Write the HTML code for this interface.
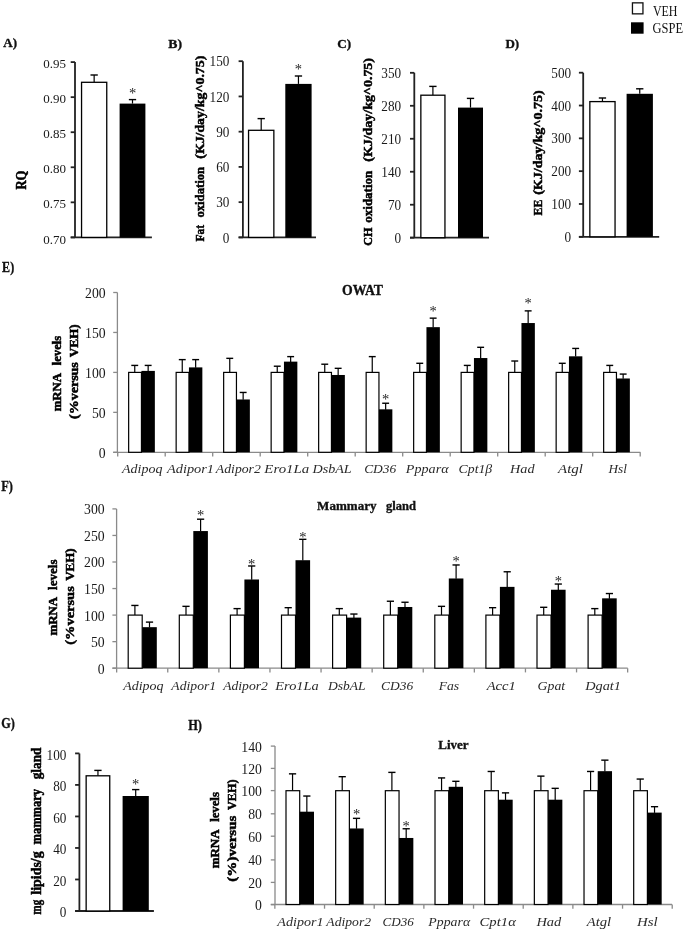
<!DOCTYPE html>
<html><head><meta charset="utf-8"><title>figure</title><style>html,body{margin:0;padding:0;background:#fff;}svg{display:block;filter:blur(0.4px);}</style></head><body>
<svg width="685" height="936" viewBox="0 0 685 936" font-family='"Liberation Serif", serif'>
<rect x="0" y="0" width="685" height="936" fill="#fff"/>
<rect x="632.45" y="2.85" width="10.50" height="11.00" fill="#fff" stroke="#111" stroke-width="1.3"/>
<rect x="631.00" y="22.30" width="12.60" height="11.40" fill="#000" stroke="none" stroke-width="0"/>
<text x="652.88" y="15.50" font-size="14.3" fill="#111" textLength="24.62" lengthAdjust="spacingAndGlyphs">VEH</text>
<text x="652.50" y="33.40" font-size="14.0" fill="#111" textLength="30.53" lengthAdjust="spacingAndGlyphs">GSPE</text>
<text x="3.37" y="47.40" font-size="13.5" font-weight="bold" stroke="#111" stroke-width="0.35" fill="#111" textLength="13.72" lengthAdjust="spacingAndGlyphs">A)</text>
<text x="168.39" y="48.30" font-size="13.5" font-weight="bold" stroke="#111" stroke-width="0.35" fill="#111" textLength="13.72" lengthAdjust="spacingAndGlyphs">B)</text>
<text x="337.34" y="48.40" font-size="13.5" font-weight="bold" stroke="#111" stroke-width="0.35" fill="#111" textLength="13.85" lengthAdjust="spacingAndGlyphs">C)</text>
<text x="505.44" y="48.30" font-size="13.5" font-weight="bold" stroke="#111" stroke-width="0.35" fill="#111" textLength="13.75" lengthAdjust="spacingAndGlyphs">D)</text>
<text x="2.12" y="271.90" font-size="14.3" font-weight="bold" stroke="#111" stroke-width="0.35" fill="#111" textLength="12.02" lengthAdjust="spacingAndGlyphs">E)</text>
<text x="1.26" y="491.20" font-size="14.3" font-weight="bold" stroke="#111" stroke-width="0.35" fill="#111" textLength="11.68" lengthAdjust="spacingAndGlyphs">F)</text>
<text x="1.19" y="728.40" font-size="14.3" font-weight="bold" stroke="#111" stroke-width="0.35" fill="#111" textLength="13.61" lengthAdjust="spacingAndGlyphs">G)</text>
<text x="188.21" y="730.40" font-size="14.3" font-weight="bold" stroke="#111" stroke-width="0.35" fill="#111" textLength="13.79" lengthAdjust="spacingAndGlyphs">H)</text>
<path d="M70.70 237.40H151.90M75.00 237.40V62.10" stroke="#222" stroke-width="1.8" fill="none"/>
<line x1="70.70" y1="237.40" x2="75.00" y2="237.40" stroke="#222" stroke-width="1.8"/>
<text x="43.17" y="243.56" font-size="13.4" fill="#1a1a1a" textLength="22.75" lengthAdjust="spacingAndGlyphs">0.70</text>
<line x1="70.70" y1="202.34" x2="75.00" y2="202.34" stroke="#222" stroke-width="1.8"/>
<text x="43.17" y="208.49" font-size="13.4" fill="#1a1a1a" textLength="22.75" lengthAdjust="spacingAndGlyphs">0.75</text>
<line x1="70.70" y1="167.28" x2="75.00" y2="167.28" stroke="#222" stroke-width="1.8"/>
<text x="43.17" y="173.44" font-size="13.4" fill="#1a1a1a" textLength="22.75" lengthAdjust="spacingAndGlyphs">0.80</text>
<line x1="70.70" y1="132.22" x2="75.00" y2="132.22" stroke="#222" stroke-width="1.8"/>
<text x="43.17" y="138.37" font-size="13.4" fill="#1a1a1a" textLength="22.75" lengthAdjust="spacingAndGlyphs">0.85</text>
<line x1="70.70" y1="97.16" x2="75.00" y2="97.16" stroke="#222" stroke-width="1.8"/>
<text x="43.17" y="103.32" font-size="13.4" fill="#1a1a1a" textLength="22.75" lengthAdjust="spacingAndGlyphs">0.90</text>
<line x1="70.70" y1="62.10" x2="75.00" y2="62.10" stroke="#222" stroke-width="1.8"/>
<text x="43.17" y="68.25" font-size="13.4" fill="#1a1a1a" textLength="22.75" lengthAdjust="spacingAndGlyphs">0.95</text>
<line x1="94.15" y1="75.00" x2="94.15" y2="82.30" stroke="#000" stroke-width="1.2"/>
<line x1="90.50" y1="75.00" x2="97.80" y2="75.00" stroke="#000" stroke-width="1.4"/>
<rect x="81.55" y="82.30" width="25.20" height="155.10" fill="#fff" stroke="#000" stroke-width="1.3"/>
<line x1="132.50" y1="99.60" x2="132.50" y2="103.60" stroke="#000" stroke-width="1.2"/>
<line x1="128.85" y1="99.60" x2="136.15" y2="99.60" stroke="#000" stroke-width="1.4"/>
<rect x="119.60" y="103.60" width="25.80" height="133.80" fill="#000" stroke="none" stroke-width="0"/>
<text x="132.50" y="97.64" font-size="14.5" text-anchor="middle" fill="#222">*</text>
<text x="26.40" y="189.59" font-size="13.6" font-weight="bold" stroke="#000" stroke-width="0.5" textLength="19.06" lengthAdjust="spacingAndGlyphs" transform="rotate(-90 26.40 189.59)">RQ</text>
<path d="M238.60 237.40H316.00M242.90 237.40V61.20" stroke="#222" stroke-width="1.8" fill="none"/>
<line x1="238.60" y1="237.40" x2="242.90" y2="237.40" stroke="#222" stroke-width="1.8"/>
<text x="222.73" y="242.55" font-size="13.6" fill="#1a1a1a" textLength="6.60" lengthAdjust="spacingAndGlyphs">0</text>
<line x1="238.60" y1="202.16" x2="242.90" y2="202.16" stroke="#222" stroke-width="1.8"/>
<text x="216.14" y="207.31" font-size="13.6" fill="#1a1a1a" textLength="13.19" lengthAdjust="spacingAndGlyphs">30</text>
<line x1="238.60" y1="166.92" x2="242.90" y2="166.92" stroke="#222" stroke-width="1.8"/>
<text x="216.14" y="172.07" font-size="13.6" fill="#1a1a1a" textLength="13.19" lengthAdjust="spacingAndGlyphs">60</text>
<line x1="238.60" y1="131.68" x2="242.90" y2="131.68" stroke="#222" stroke-width="1.8"/>
<text x="216.14" y="136.83" font-size="13.6" fill="#1a1a1a" textLength="13.19" lengthAdjust="spacingAndGlyphs">90</text>
<line x1="238.60" y1="96.44" x2="242.90" y2="96.44" stroke="#222" stroke-width="1.8"/>
<text x="209.54" y="101.59" font-size="13.6" fill="#1a1a1a" textLength="19.79" lengthAdjust="spacingAndGlyphs">120</text>
<line x1="238.60" y1="61.20" x2="242.90" y2="61.20" stroke="#222" stroke-width="1.8"/>
<text x="209.54" y="66.35" font-size="13.6" fill="#1a1a1a" textLength="19.79" lengthAdjust="spacingAndGlyphs">150</text>
<line x1="261.20" y1="118.60" x2="261.20" y2="130.30" stroke="#000" stroke-width="1.2"/>
<line x1="257.55" y1="118.60" x2="264.85" y2="118.60" stroke="#000" stroke-width="1.4"/>
<rect x="248.55" y="130.30" width="25.30" height="107.10" fill="#fff" stroke="#000" stroke-width="1.3"/>
<line x1="298.45" y1="76.00" x2="298.45" y2="83.90" stroke="#000" stroke-width="1.2"/>
<line x1="294.80" y1="76.00" x2="302.10" y2="76.00" stroke="#000" stroke-width="1.4"/>
<rect x="285.30" y="83.90" width="26.30" height="153.50" fill="#000" stroke="none" stroke-width="0"/>
<text x="298.45" y="73.94" font-size="14.5" text-anchor="middle" fill="#222">*</text>
<text x="204.10" y="241.57" font-size="13.4" font-weight="bold" stroke="#000" stroke-width="0.5" textLength="16.82" lengthAdjust="spacingAndGlyphs" transform="rotate(-90 204.10 241.57)">Fat</text>
<text x="204.10" y="217.61" font-size="13.4" font-weight="bold" stroke="#000" stroke-width="0.5" textLength="50.71" lengthAdjust="spacingAndGlyphs" transform="rotate(-90 204.10 217.61)">oxidation</text>
<text x="204.10" y="158.72" font-size="13.4" font-weight="bold" stroke="#000" stroke-width="0.5" textLength="103.02" lengthAdjust="spacingAndGlyphs" transform="rotate(-90 204.10 158.72)">(KJ/day/kg^0.75)</text>
<path d="M410.00 237.70H489.00M414.30 237.70V72.80" stroke="#222" stroke-width="1.8" fill="none"/>
<line x1="410.00" y1="237.70" x2="414.30" y2="237.70" stroke="#222" stroke-width="1.8"/>
<text x="394.53" y="242.65" font-size="13.6" fill="#1a1a1a" textLength="6.60" lengthAdjust="spacingAndGlyphs">0</text>
<line x1="410.00" y1="204.72" x2="414.30" y2="204.72" stroke="#222" stroke-width="1.8"/>
<text x="387.94" y="209.67" font-size="13.6" fill="#1a1a1a" textLength="13.19" lengthAdjust="spacingAndGlyphs">70</text>
<line x1="410.00" y1="171.74" x2="414.30" y2="171.74" stroke="#222" stroke-width="1.8"/>
<text x="381.34" y="176.69" font-size="13.6" fill="#1a1a1a" textLength="19.79" lengthAdjust="spacingAndGlyphs">140</text>
<line x1="410.00" y1="138.76" x2="414.30" y2="138.76" stroke="#222" stroke-width="1.8"/>
<text x="381.34" y="143.71" font-size="13.6" fill="#1a1a1a" textLength="19.79" lengthAdjust="spacingAndGlyphs">210</text>
<line x1="410.00" y1="105.78" x2="414.30" y2="105.78" stroke="#222" stroke-width="1.8"/>
<text x="381.34" y="110.73" font-size="13.6" fill="#1a1a1a" textLength="19.79" lengthAdjust="spacingAndGlyphs">280</text>
<line x1="410.00" y1="72.80" x2="414.30" y2="72.80" stroke="#222" stroke-width="1.8"/>
<text x="381.34" y="77.75" font-size="13.6" fill="#1a1a1a" textLength="19.79" lengthAdjust="spacingAndGlyphs">350</text>
<line x1="432.90" y1="86.40" x2="432.90" y2="95.20" stroke="#000" stroke-width="1.2"/>
<line x1="429.25" y1="86.40" x2="436.55" y2="86.40" stroke="#000" stroke-width="1.4"/>
<rect x="420.85" y="95.20" width="24.10" height="142.50" fill="#fff" stroke="#000" stroke-width="1.3"/>
<line x1="470.50" y1="98.40" x2="470.50" y2="107.60" stroke="#000" stroke-width="1.2"/>
<line x1="466.85" y1="98.40" x2="474.15" y2="98.40" stroke="#000" stroke-width="1.4"/>
<rect x="458.00" y="107.60" width="25.00" height="130.10" fill="#000" stroke="none" stroke-width="0"/>
<text x="372.20" y="245.70" font-size="13.4" font-weight="bold" stroke="#000" stroke-width="0.5" textLength="18.15" lengthAdjust="spacingAndGlyphs" transform="rotate(-90 372.20 245.70)">CH</text>
<text x="372.20" y="222.72" font-size="13.4" font-weight="bold" stroke="#000" stroke-width="0.5" textLength="52.03" lengthAdjust="spacingAndGlyphs" transform="rotate(-90 372.20 222.72)">oxidation</text>
<text x="372.20" y="161.73" font-size="13.4" font-weight="bold" stroke="#000" stroke-width="0.5" textLength="103.73" lengthAdjust="spacingAndGlyphs" transform="rotate(-90 372.20 161.73)">(KJ/day/kg^0.75)</text>
<path d="M578.90 236.80H659.20M583.20 236.80V72.70" stroke="#222" stroke-width="1.8" fill="none"/>
<line x1="578.90" y1="236.80" x2="583.20" y2="236.80" stroke="#222" stroke-width="1.8"/>
<text x="564.53" y="241.95" font-size="13.6" fill="#1a1a1a" textLength="6.60" lengthAdjust="spacingAndGlyphs">0</text>
<line x1="578.90" y1="203.98" x2="583.20" y2="203.98" stroke="#222" stroke-width="1.8"/>
<text x="551.34" y="209.13" font-size="13.6" fill="#1a1a1a" textLength="19.79" lengthAdjust="spacingAndGlyphs">100</text>
<line x1="578.90" y1="171.16" x2="583.20" y2="171.16" stroke="#222" stroke-width="1.8"/>
<text x="551.34" y="176.31" font-size="13.6" fill="#1a1a1a" textLength="19.79" lengthAdjust="spacingAndGlyphs">200</text>
<line x1="578.90" y1="138.34" x2="583.20" y2="138.34" stroke="#222" stroke-width="1.8"/>
<text x="551.34" y="143.49" font-size="13.6" fill="#1a1a1a" textLength="19.79" lengthAdjust="spacingAndGlyphs">300</text>
<line x1="578.90" y1="105.52" x2="583.20" y2="105.52" stroke="#222" stroke-width="1.8"/>
<text x="551.34" y="110.67" font-size="13.6" fill="#1a1a1a" textLength="19.79" lengthAdjust="spacingAndGlyphs">400</text>
<line x1="578.90" y1="72.70" x2="583.20" y2="72.70" stroke="#222" stroke-width="1.8"/>
<text x="551.34" y="77.85" font-size="13.6" fill="#1a1a1a" textLength="19.79" lengthAdjust="spacingAndGlyphs">500</text>
<line x1="602.45" y1="98.00" x2="602.45" y2="101.60" stroke="#000" stroke-width="1.2"/>
<line x1="598.80" y1="98.00" x2="606.10" y2="98.00" stroke="#000" stroke-width="1.4"/>
<rect x="589.85" y="101.60" width="25.20" height="135.20" fill="#fff" stroke="#000" stroke-width="1.3"/>
<line x1="639.75" y1="88.80" x2="639.75" y2="93.80" stroke="#000" stroke-width="1.2"/>
<line x1="636.10" y1="88.80" x2="643.40" y2="88.80" stroke="#000" stroke-width="1.4"/>
<rect x="626.60" y="93.80" width="26.30" height="143.00" fill="#000" stroke="none" stroke-width="0"/>
<text x="542.40" y="215.38" font-size="13.4" font-weight="bold" stroke="#000" stroke-width="0.5" textLength="15.71" lengthAdjust="spacingAndGlyphs" transform="rotate(-90 542.40 215.38)">EE</text>
<text x="542.40" y="194.83" font-size="13.4" font-weight="bold" stroke="#000" stroke-width="0.5" textLength="104.54" lengthAdjust="spacingAndGlyphs" transform="rotate(-90 542.40 194.83)">(KJ/day/kg^0.75)</text>
<path d="M75.10 911.00H153.90M79.40 911.00V753.40" stroke="#222" stroke-width="1.8" fill="none"/>
<line x1="75.10" y1="911.00" x2="79.40" y2="911.00" stroke="#222" stroke-width="1.8"/>
<text x="59.73" y="917.15" font-size="13.6" fill="#1a1a1a" textLength="6.60" lengthAdjust="spacingAndGlyphs">0</text>
<line x1="75.10" y1="879.48" x2="79.40" y2="879.48" stroke="#222" stroke-width="1.8"/>
<text x="53.14" y="885.63" font-size="13.6" fill="#1a1a1a" textLength="13.19" lengthAdjust="spacingAndGlyphs">20</text>
<line x1="75.10" y1="847.96" x2="79.40" y2="847.96" stroke="#222" stroke-width="1.8"/>
<text x="53.14" y="854.11" font-size="13.6" fill="#1a1a1a" textLength="13.19" lengthAdjust="spacingAndGlyphs">40</text>
<line x1="75.10" y1="816.44" x2="79.40" y2="816.44" stroke="#222" stroke-width="1.8"/>
<text x="53.14" y="822.59" font-size="13.6" fill="#1a1a1a" textLength="13.19" lengthAdjust="spacingAndGlyphs">60</text>
<line x1="75.10" y1="784.92" x2="79.40" y2="784.92" stroke="#222" stroke-width="1.8"/>
<text x="53.14" y="791.07" font-size="13.6" fill="#1a1a1a" textLength="13.19" lengthAdjust="spacingAndGlyphs">80</text>
<line x1="75.10" y1="753.40" x2="79.40" y2="753.40" stroke="#222" stroke-width="1.8"/>
<text x="46.54" y="759.55" font-size="13.6" fill="#1a1a1a" textLength="19.79" lengthAdjust="spacingAndGlyphs">100</text>
<line x1="97.95" y1="770.40" x2="97.95" y2="775.80" stroke="#000" stroke-width="1.2"/>
<line x1="94.30" y1="770.40" x2="101.60" y2="770.40" stroke="#000" stroke-width="1.4"/>
<rect x="86.15" y="775.80" width="23.60" height="135.20" fill="#fff" stroke="#000" stroke-width="1.3"/>
<line x1="135.70" y1="789.60" x2="135.70" y2="796.00" stroke="#000" stroke-width="1.2"/>
<line x1="132.05" y1="789.60" x2="139.35" y2="789.60" stroke="#000" stroke-width="1.4"/>
<rect x="122.60" y="796.00" width="26.20" height="115.00" fill="#000" stroke="none" stroke-width="0"/>
<text x="135.70" y="789.14" font-size="14.5" text-anchor="middle" fill="#222">*</text>
<text x="41.50" y="914.47" font-size="13.6" font-weight="bold" stroke="#000" stroke-width="0.5" textLength="14.56" lengthAdjust="spacingAndGlyphs" transform="rotate(-90 41.50 914.47)">mg</text>
<text x="41.50" y="894.68" font-size="13.6" font-weight="bold" stroke="#000" stroke-width="0.5" textLength="43.39" lengthAdjust="spacingAndGlyphs" transform="rotate(-90 41.50 894.68)">lipids/g</text>
<text x="41.50" y="844.51" font-size="13.6" font-weight="bold" stroke="#000" stroke-width="0.5" textLength="55.61" lengthAdjust="spacingAndGlyphs" transform="rotate(-90 41.50 844.51)">mammary</text>
<text x="41.50" y="779.33" font-size="13.6" font-weight="bold" stroke="#000" stroke-width="0.5" textLength="31.87" lengthAdjust="spacingAndGlyphs" transform="rotate(-90 41.50 779.33)">gland</text>
<path d="M113.20 452.30H640.40M117.40 452.30V292.50" stroke="#8a8a8a" stroke-width="1.3" fill="none"/>
<line x1="113.20" y1="452.30" x2="117.40" y2="452.30" stroke="#8a8a8a" stroke-width="1.3"/>
<text x="98.79" y="457.78" font-size="14.0" fill="#1a1a1a" textLength="6.86" lengthAdjust="spacingAndGlyphs">0</text>
<line x1="113.20" y1="412.35" x2="117.40" y2="412.35" stroke="#8a8a8a" stroke-width="1.3"/>
<text x="91.93" y="417.83" font-size="14.0" fill="#1a1a1a" textLength="13.72" lengthAdjust="spacingAndGlyphs">50</text>
<line x1="113.20" y1="372.40" x2="117.40" y2="372.40" stroke="#8a8a8a" stroke-width="1.3"/>
<text x="85.07" y="377.88" font-size="14.0" fill="#1a1a1a" textLength="20.58" lengthAdjust="spacingAndGlyphs">100</text>
<line x1="113.20" y1="332.45" x2="117.40" y2="332.45" stroke="#8a8a8a" stroke-width="1.3"/>
<text x="85.07" y="337.93" font-size="14.0" fill="#1a1a1a" textLength="20.58" lengthAdjust="spacingAndGlyphs">150</text>
<line x1="113.20" y1="292.50" x2="117.40" y2="292.50" stroke="#8a8a8a" stroke-width="1.3"/>
<text x="85.07" y="297.98" font-size="14.0" fill="#1a1a1a" textLength="20.58" lengthAdjust="spacingAndGlyphs">200</text>
<line x1="117.70" y1="452.30" x2="117.70" y2="456.50" stroke="#8a8a8a" stroke-width="1.3"/>
<line x1="165.20" y1="452.30" x2="165.20" y2="456.50" stroke="#8a8a8a" stroke-width="1.3"/>
<line x1="212.70" y1="452.30" x2="212.70" y2="456.50" stroke="#8a8a8a" stroke-width="1.3"/>
<line x1="260.20" y1="452.30" x2="260.20" y2="456.50" stroke="#8a8a8a" stroke-width="1.3"/>
<line x1="307.70" y1="452.30" x2="307.70" y2="456.50" stroke="#8a8a8a" stroke-width="1.3"/>
<line x1="355.20" y1="452.30" x2="355.20" y2="456.50" stroke="#8a8a8a" stroke-width="1.3"/>
<line x1="402.70" y1="452.30" x2="402.70" y2="456.50" stroke="#8a8a8a" stroke-width="1.3"/>
<line x1="450.20" y1="452.30" x2="450.20" y2="456.50" stroke="#8a8a8a" stroke-width="1.3"/>
<line x1="497.70" y1="452.30" x2="497.70" y2="456.50" stroke="#8a8a8a" stroke-width="1.3"/>
<line x1="545.20" y1="452.30" x2="545.20" y2="456.50" stroke="#8a8a8a" stroke-width="1.3"/>
<line x1="592.70" y1="452.30" x2="592.70" y2="456.50" stroke="#8a8a8a" stroke-width="1.3"/>
<line x1="640.20" y1="452.30" x2="640.20" y2="456.50" stroke="#8a8a8a" stroke-width="1.3"/>
<line x1="134.75" y1="365.41" x2="134.75" y2="372.40" stroke="#000" stroke-width="1.2"/>
<line x1="131.30" y1="365.41" x2="138.20" y2="365.41" stroke="#000" stroke-width="1.4"/>
<rect x="128.65" y="372.40" width="12.80" height="79.90" fill="#fff" stroke="#000" stroke-width="1.2"/>
<line x1="148.15" y1="365.41" x2="148.15" y2="371.20" stroke="#000" stroke-width="1.2"/>
<line x1="144.70" y1="365.41" x2="151.60" y2="365.41" stroke="#000" stroke-width="1.4"/>
<rect x="141.45" y="370.90" width="13.40" height="81.40" fill="#000" stroke="none" stroke-width="0"/>
<line x1="182.25" y1="359.62" x2="182.25" y2="372.40" stroke="#000" stroke-width="1.2"/>
<line x1="178.80" y1="359.62" x2="185.70" y2="359.62" stroke="#000" stroke-width="1.4"/>
<rect x="176.15" y="372.40" width="12.80" height="79.90" fill="#fff" stroke="#000" stroke-width="1.2"/>
<line x1="195.65" y1="359.62" x2="195.65" y2="367.69" stroke="#000" stroke-width="1.2"/>
<line x1="192.20" y1="359.62" x2="199.10" y2="359.62" stroke="#000" stroke-width="1.4"/>
<rect x="188.95" y="367.39" width="13.40" height="84.91" fill="#000" stroke="none" stroke-width="0"/>
<line x1="229.75" y1="358.34" x2="229.75" y2="372.40" stroke="#000" stroke-width="1.2"/>
<line x1="226.30" y1="358.34" x2="233.20" y2="358.34" stroke="#000" stroke-width="1.4"/>
<rect x="223.65" y="372.40" width="12.80" height="79.90" fill="#fff" stroke="#000" stroke-width="1.2"/>
<line x1="243.15" y1="392.45" x2="243.15" y2="399.77" stroke="#000" stroke-width="1.2"/>
<line x1="239.70" y1="392.45" x2="246.60" y2="392.45" stroke="#000" stroke-width="1.4"/>
<rect x="236.45" y="399.47" width="13.40" height="52.83" fill="#000" stroke="none" stroke-width="0"/>
<line x1="277.25" y1="366.21" x2="277.25" y2="372.40" stroke="#000" stroke-width="1.2"/>
<line x1="273.80" y1="366.21" x2="280.70" y2="366.21" stroke="#000" stroke-width="1.4"/>
<rect x="271.15" y="372.40" width="12.80" height="79.90" fill="#fff" stroke="#000" stroke-width="1.2"/>
<line x1="290.65" y1="356.62" x2="290.65" y2="361.93" stroke="#000" stroke-width="1.2"/>
<line x1="287.20" y1="356.62" x2="294.10" y2="356.62" stroke="#000" stroke-width="1.4"/>
<rect x="283.95" y="361.63" width="13.40" height="90.67" fill="#000" stroke="none" stroke-width="0"/>
<line x1="324.75" y1="364.21" x2="324.75" y2="372.40" stroke="#000" stroke-width="1.2"/>
<line x1="321.30" y1="364.21" x2="328.20" y2="364.21" stroke="#000" stroke-width="1.4"/>
<rect x="318.65" y="372.40" width="12.80" height="79.90" fill="#fff" stroke="#000" stroke-width="1.2"/>
<line x1="338.15" y1="368.33" x2="338.15" y2="375.28" stroke="#000" stroke-width="1.2"/>
<line x1="334.70" y1="368.33" x2="341.60" y2="368.33" stroke="#000" stroke-width="1.4"/>
<rect x="331.45" y="374.98" width="13.40" height="77.32" fill="#000" stroke="none" stroke-width="0"/>
<line x1="372.25" y1="356.62" x2="372.25" y2="372.40" stroke="#000" stroke-width="1.2"/>
<line x1="368.80" y1="356.62" x2="375.70" y2="356.62" stroke="#000" stroke-width="1.4"/>
<rect x="366.15" y="372.40" width="12.80" height="79.90" fill="#fff" stroke="#000" stroke-width="1.2"/>
<line x1="385.65" y1="403.24" x2="385.65" y2="409.63" stroke="#000" stroke-width="1.2"/>
<line x1="382.20" y1="403.24" x2="389.10" y2="403.24" stroke="#000" stroke-width="1.4"/>
<rect x="378.95" y="409.33" width="13.40" height="42.97" fill="#000" stroke="none" stroke-width="0"/>
<text x="385.65" y="403.54" font-size="14.5" text-anchor="middle" fill="#222">*</text>
<line x1="419.75" y1="363.29" x2="419.75" y2="372.40" stroke="#000" stroke-width="1.2"/>
<line x1="416.30" y1="363.29" x2="423.20" y2="363.29" stroke="#000" stroke-width="1.4"/>
<rect x="413.65" y="372.40" width="12.80" height="79.90" fill="#fff" stroke="#000" stroke-width="1.2"/>
<line x1="433.15" y1="318.15" x2="433.15" y2="327.46" stroke="#000" stroke-width="1.2"/>
<line x1="429.70" y1="318.15" x2="436.60" y2="318.15" stroke="#000" stroke-width="1.4"/>
<rect x="426.45" y="327.16" width="13.40" height="125.14" fill="#000" stroke="none" stroke-width="0"/>
<text x="433.15" y="315.74" font-size="14.5" text-anchor="middle" fill="#222">*</text>
<line x1="467.25" y1="365.41" x2="467.25" y2="372.40" stroke="#000" stroke-width="1.2"/>
<line x1="463.80" y1="365.41" x2="470.70" y2="365.41" stroke="#000" stroke-width="1.4"/>
<rect x="461.15" y="372.40" width="12.80" height="79.90" fill="#fff" stroke="#000" stroke-width="1.2"/>
<line x1="480.65" y1="347.31" x2="480.65" y2="358.34" stroke="#000" stroke-width="1.2"/>
<line x1="477.20" y1="347.31" x2="484.10" y2="347.31" stroke="#000" stroke-width="1.4"/>
<rect x="473.95" y="358.04" width="13.40" height="94.26" fill="#000" stroke="none" stroke-width="0"/>
<line x1="514.75" y1="361.01" x2="514.75" y2="372.40" stroke="#000" stroke-width="1.2"/>
<line x1="511.30" y1="361.01" x2="518.20" y2="361.01" stroke="#000" stroke-width="1.4"/>
<rect x="508.65" y="372.40" width="12.80" height="79.90" fill="#fff" stroke="#000" stroke-width="1.2"/>
<line x1="528.15" y1="310.88" x2="528.15" y2="323.34" stroke="#000" stroke-width="1.2"/>
<line x1="524.70" y1="310.88" x2="531.60" y2="310.88" stroke="#000" stroke-width="1.4"/>
<rect x="521.45" y="323.04" width="13.40" height="129.26" fill="#000" stroke="none" stroke-width="0"/>
<text x="528.15" y="307.74" font-size="14.5" text-anchor="middle" fill="#222">*</text>
<line x1="562.25" y1="363.29" x2="562.25" y2="372.40" stroke="#000" stroke-width="1.2"/>
<line x1="558.80" y1="363.29" x2="565.70" y2="363.29" stroke="#000" stroke-width="1.4"/>
<rect x="556.15" y="372.40" width="12.80" height="79.90" fill="#fff" stroke="#000" stroke-width="1.2"/>
<line x1="575.65" y1="348.43" x2="575.65" y2="356.62" stroke="#000" stroke-width="1.2"/>
<line x1="572.20" y1="348.43" x2="579.10" y2="348.43" stroke="#000" stroke-width="1.4"/>
<rect x="568.95" y="356.32" width="13.40" height="95.98" fill="#000" stroke="none" stroke-width="0"/>
<line x1="609.75" y1="365.41" x2="609.75" y2="372.40" stroke="#000" stroke-width="1.2"/>
<line x1="606.30" y1="365.41" x2="613.20" y2="365.41" stroke="#000" stroke-width="1.4"/>
<rect x="603.65" y="372.40" width="12.80" height="79.90" fill="#fff" stroke="#000" stroke-width="1.2"/>
<line x1="623.15" y1="374.08" x2="623.15" y2="378.79" stroke="#000" stroke-width="1.2"/>
<line x1="619.70" y1="374.08" x2="626.60" y2="374.08" stroke="#000" stroke-width="1.4"/>
<rect x="616.45" y="378.49" width="13.40" height="73.81" fill="#000" stroke="none" stroke-width="0"/>
<text x="122.07" y="472.90" font-size="12.8" font-style="italic" fill="#2a2a2a" textLength="40.36" lengthAdjust="spacingAndGlyphs">Adipoq</text>
<text x="166.99" y="472.90" font-size="12.8" font-style="italic" fill="#2a2a2a" textLength="47.06" lengthAdjust="spacingAndGlyphs">Adipor1</text>
<text x="215.85" y="472.90" font-size="12.8" font-style="italic" fill="#2a2a2a" textLength="44.99" lengthAdjust="spacingAndGlyphs">Adipor2</text>
<text x="264.35" y="472.90" font-size="12.8" font-style="italic" fill="#2a2a2a" textLength="44.83" lengthAdjust="spacingAndGlyphs">Ero1La</text>
<text x="312.44" y="472.90" font-size="12.8" font-style="italic" fill="#2a2a2a" textLength="39.24" lengthAdjust="spacingAndGlyphs">DsbAL</text>
<text x="364.16" y="472.90" font-size="12.8" font-style="italic" fill="#2a2a2a" textLength="32.10" lengthAdjust="spacingAndGlyphs">CD36</text>
<text x="405.87" y="472.90" font-size="12.8" font-style="italic" fill="#2a2a2a" textLength="42.72" lengthAdjust="spacingAndGlyphs">Ppparα</text>
<text x="458.64" y="472.90" font-size="12.8" font-style="italic" fill="#2a2a2a" textLength="33.60" lengthAdjust="spacingAndGlyphs">Cpt1β</text>
<text x="510.04" y="472.90" font-size="12.8" font-style="italic" fill="#2a2a2a" textLength="24.49" lengthAdjust="spacingAndGlyphs">Had</text>
<text x="558.02" y="472.90" font-size="12.8" font-style="italic" fill="#2a2a2a" textLength="24.90" lengthAdjust="spacingAndGlyphs">Atgl</text>
<text x="608.43" y="472.90" font-size="12.8" font-style="italic" fill="#2a2a2a" textLength="18.39" lengthAdjust="spacingAndGlyphs">Hsl</text>
<text x="342.11" y="294.70" font-size="15.3" font-weight="bold" stroke="#111" stroke-width="0.35" fill="#111" textLength="40.92" lengthAdjust="spacingAndGlyphs">OWAT</text>
<text x="61.00" y="411.32" font-size="12.2" font-weight="bold" stroke="#000" stroke-width="0.5" textLength="38.34" lengthAdjust="spacingAndGlyphs" transform="rotate(-90 61.00 411.32)">mRNA</text>
<text x="61.00" y="365.25" font-size="12.2" font-weight="bold" stroke="#000" stroke-width="0.5" textLength="29.44" lengthAdjust="spacingAndGlyphs" transform="rotate(-90 61.00 365.25)">levels</text>
<text x="77.90" y="418.93" font-size="12.2" font-weight="bold" stroke="#000" stroke-width="0.5" textLength="56.78" lengthAdjust="spacingAndGlyphs" transform="rotate(-90 77.90 418.93)">(%versus</text>
<text x="77.90" y="357.33" font-size="12.2" font-weight="bold" stroke="#000" stroke-width="0.5" textLength="33.03" lengthAdjust="spacingAndGlyphs" transform="rotate(-90 77.90 357.33)">VEH)</text>
<path d="M112.40 668.20H627.70M116.60 668.20V508.90" stroke="#8a8a8a" stroke-width="1.3" fill="none"/>
<line x1="112.40" y1="668.20" x2="116.60" y2="668.20" stroke="#8a8a8a" stroke-width="1.3"/>
<text x="97.79" y="673.69" font-size="14.0" fill="#1a1a1a" textLength="6.86" lengthAdjust="spacingAndGlyphs">0</text>
<line x1="112.40" y1="641.65" x2="116.60" y2="641.65" stroke="#8a8a8a" stroke-width="1.3"/>
<text x="90.93" y="647.14" font-size="14.0" fill="#1a1a1a" textLength="13.72" lengthAdjust="spacingAndGlyphs">50</text>
<line x1="112.40" y1="615.10" x2="116.60" y2="615.10" stroke="#8a8a8a" stroke-width="1.3"/>
<text x="84.07" y="620.59" font-size="14.0" fill="#1a1a1a" textLength="20.58" lengthAdjust="spacingAndGlyphs">100</text>
<line x1="112.40" y1="588.55" x2="116.60" y2="588.55" stroke="#8a8a8a" stroke-width="1.3"/>
<text x="84.07" y="594.03" font-size="14.0" fill="#1a1a1a" textLength="20.58" lengthAdjust="spacingAndGlyphs">150</text>
<line x1="112.40" y1="562.00" x2="116.60" y2="562.00" stroke="#8a8a8a" stroke-width="1.3"/>
<text x="84.07" y="567.49" font-size="14.0" fill="#1a1a1a" textLength="20.58" lengthAdjust="spacingAndGlyphs">200</text>
<line x1="112.40" y1="535.45" x2="116.60" y2="535.45" stroke="#8a8a8a" stroke-width="1.3"/>
<text x="84.07" y="540.94" font-size="14.0" fill="#1a1a1a" textLength="20.58" lengthAdjust="spacingAndGlyphs">250</text>
<line x1="112.40" y1="508.90" x2="116.60" y2="508.90" stroke="#8a8a8a" stroke-width="1.3"/>
<text x="84.07" y="514.38" font-size="14.0" fill="#1a1a1a" textLength="20.58" lengthAdjust="spacingAndGlyphs">300</text>
<line x1="116.65" y1="668.20" x2="116.65" y2="672.40" stroke="#8a8a8a" stroke-width="1.3"/>
<line x1="167.75" y1="668.20" x2="167.75" y2="672.40" stroke="#8a8a8a" stroke-width="1.3"/>
<line x1="218.85" y1="668.20" x2="218.85" y2="672.40" stroke="#8a8a8a" stroke-width="1.3"/>
<line x1="269.95" y1="668.20" x2="269.95" y2="672.40" stroke="#8a8a8a" stroke-width="1.3"/>
<line x1="321.05" y1="668.20" x2="321.05" y2="672.40" stroke="#8a8a8a" stroke-width="1.3"/>
<line x1="372.15" y1="668.20" x2="372.15" y2="672.40" stroke="#8a8a8a" stroke-width="1.3"/>
<line x1="423.25" y1="668.20" x2="423.25" y2="672.40" stroke="#8a8a8a" stroke-width="1.3"/>
<line x1="474.35" y1="668.20" x2="474.35" y2="672.40" stroke="#8a8a8a" stroke-width="1.3"/>
<line x1="525.45" y1="668.20" x2="525.45" y2="672.40" stroke="#8a8a8a" stroke-width="1.3"/>
<line x1="576.55" y1="668.20" x2="576.55" y2="672.40" stroke="#8a8a8a" stroke-width="1.3"/>
<line x1="627.65" y1="668.20" x2="627.65" y2="672.40" stroke="#8a8a8a" stroke-width="1.3"/>
<line x1="134.90" y1="605.44" x2="134.90" y2="615.10" stroke="#000" stroke-width="1.2"/>
<line x1="131.30" y1="605.44" x2="138.50" y2="605.44" stroke="#000" stroke-width="1.4"/>
<rect x="128.20" y="615.10" width="14.00" height="53.10" fill="#fff" stroke="#000" stroke-width="1.2"/>
<line x1="149.50" y1="622.11" x2="149.50" y2="627.47" stroke="#000" stroke-width="1.2"/>
<line x1="145.90" y1="622.11" x2="153.10" y2="622.11" stroke="#000" stroke-width="1.4"/>
<rect x="142.20" y="627.17" width="14.60" height="41.03" fill="#000" stroke="none" stroke-width="0"/>
<line x1="186.00" y1="606.34" x2="186.00" y2="615.10" stroke="#000" stroke-width="1.2"/>
<line x1="182.40" y1="606.34" x2="189.60" y2="606.34" stroke="#000" stroke-width="1.4"/>
<rect x="179.30" y="615.10" width="14.00" height="53.10" fill="#fff" stroke="#000" stroke-width="1.2"/>
<line x1="200.60" y1="519.20" x2="200.60" y2="531.36" stroke="#000" stroke-width="1.2"/>
<line x1="197.00" y1="519.20" x2="204.20" y2="519.20" stroke="#000" stroke-width="1.4"/>
<rect x="193.30" y="531.06" width="14.60" height="137.14" fill="#000" stroke="none" stroke-width="0"/>
<text x="200.60" y="520.04" font-size="14.5" text-anchor="middle" fill="#222">*</text>
<line x1="237.10" y1="608.62" x2="237.10" y2="615.10" stroke="#000" stroke-width="1.2"/>
<line x1="233.50" y1="608.62" x2="240.70" y2="608.62" stroke="#000" stroke-width="1.4"/>
<rect x="230.40" y="615.10" width="14.00" height="53.10" fill="#fff" stroke="#000" stroke-width="1.2"/>
<line x1="251.70" y1="565.98" x2="251.70" y2="579.79" stroke="#000" stroke-width="1.2"/>
<line x1="248.10" y1="565.98" x2="255.30" y2="565.98" stroke="#000" stroke-width="1.4"/>
<rect x="244.40" y="579.49" width="14.60" height="88.71" fill="#000" stroke="none" stroke-width="0"/>
<text x="251.70" y="569.24" font-size="14.5" text-anchor="middle" fill="#222">*</text>
<line x1="288.20" y1="607.67" x2="288.20" y2="615.10" stroke="#000" stroke-width="1.2"/>
<line x1="284.60" y1="607.67" x2="291.80" y2="607.67" stroke="#000" stroke-width="1.4"/>
<rect x="281.50" y="615.10" width="14.00" height="53.10" fill="#fff" stroke="#000" stroke-width="1.2"/>
<line x1="302.80" y1="539.33" x2="302.80" y2="560.51" stroke="#000" stroke-width="1.2"/>
<line x1="299.20" y1="539.33" x2="306.40" y2="539.33" stroke="#000" stroke-width="1.4"/>
<rect x="295.50" y="560.21" width="14.60" height="107.99" fill="#000" stroke="none" stroke-width="0"/>
<text x="302.80" y="541.74" font-size="14.5" text-anchor="middle" fill="#222">*</text>
<line x1="339.30" y1="608.62" x2="339.30" y2="615.10" stroke="#000" stroke-width="1.2"/>
<line x1="335.70" y1="608.62" x2="342.90" y2="608.62" stroke="#000" stroke-width="1.4"/>
<rect x="332.60" y="615.10" width="14.00" height="53.10" fill="#fff" stroke="#000" stroke-width="1.2"/>
<line x1="353.90" y1="614.04" x2="353.90" y2="617.91" stroke="#000" stroke-width="1.2"/>
<line x1="350.30" y1="614.04" x2="357.50" y2="614.04" stroke="#000" stroke-width="1.4"/>
<rect x="346.60" y="617.61" width="14.60" height="50.59" fill="#000" stroke="none" stroke-width="0"/>
<line x1="390.40" y1="601.24" x2="390.40" y2="615.10" stroke="#000" stroke-width="1.2"/>
<line x1="386.80" y1="601.24" x2="394.00" y2="601.24" stroke="#000" stroke-width="1.4"/>
<rect x="383.70" y="615.10" width="14.00" height="53.10" fill="#fff" stroke="#000" stroke-width="1.2"/>
<line x1="405.00" y1="602.25" x2="405.00" y2="607.29" stroke="#000" stroke-width="1.2"/>
<line x1="401.40" y1="602.25" x2="408.60" y2="602.25" stroke="#000" stroke-width="1.4"/>
<rect x="397.70" y="606.99" width="14.60" height="61.21" fill="#000" stroke="none" stroke-width="0"/>
<line x1="441.50" y1="606.34" x2="441.50" y2="615.10" stroke="#000" stroke-width="1.2"/>
<line x1="437.90" y1="606.34" x2="445.10" y2="606.34" stroke="#000" stroke-width="1.4"/>
<rect x="434.80" y="615.10" width="14.00" height="53.10" fill="#fff" stroke="#000" stroke-width="1.2"/>
<line x1="456.10" y1="564.97" x2="456.10" y2="578.78" stroke="#000" stroke-width="1.2"/>
<line x1="452.50" y1="564.97" x2="459.70" y2="564.97" stroke="#000" stroke-width="1.4"/>
<rect x="448.80" y="578.48" width="14.60" height="89.72" fill="#000" stroke="none" stroke-width="0"/>
<text x="456.10" y="566.04" font-size="14.5" text-anchor="middle" fill="#222">*</text>
<line x1="492.60" y1="607.67" x2="492.60" y2="615.10" stroke="#000" stroke-width="1.2"/>
<line x1="489.00" y1="607.67" x2="496.20" y2="607.67" stroke="#000" stroke-width="1.4"/>
<rect x="485.90" y="615.10" width="14.00" height="53.10" fill="#fff" stroke="#000" stroke-width="1.2"/>
<line x1="507.20" y1="571.77" x2="507.20" y2="587.17" stroke="#000" stroke-width="1.2"/>
<line x1="503.60" y1="571.77" x2="510.80" y2="571.77" stroke="#000" stroke-width="1.4"/>
<rect x="499.90" y="586.87" width="14.60" height="81.33" fill="#000" stroke="none" stroke-width="0"/>
<line x1="543.70" y1="607.29" x2="543.70" y2="615.10" stroke="#000" stroke-width="1.2"/>
<line x1="540.10" y1="607.29" x2="547.30" y2="607.29" stroke="#000" stroke-width="1.4"/>
<rect x="537.00" y="615.10" width="14.00" height="53.10" fill="#fff" stroke="#000" stroke-width="1.2"/>
<line x1="558.30" y1="584.04" x2="558.30" y2="590.04" stroke="#000" stroke-width="1.2"/>
<line x1="554.70" y1="584.04" x2="561.90" y2="584.04" stroke="#000" stroke-width="1.4"/>
<rect x="551.00" y="589.74" width="14.60" height="78.46" fill="#000" stroke="none" stroke-width="0"/>
<text x="558.30" y="586.24" font-size="14.5" text-anchor="middle" fill="#222">*</text>
<line x1="594.80" y1="608.62" x2="594.80" y2="615.10" stroke="#000" stroke-width="1.2"/>
<line x1="591.20" y1="608.62" x2="598.40" y2="608.62" stroke="#000" stroke-width="1.4"/>
<rect x="588.10" y="615.10" width="14.00" height="53.10" fill="#fff" stroke="#000" stroke-width="1.2"/>
<line x1="609.40" y1="593.54" x2="609.40" y2="598.64" stroke="#000" stroke-width="1.2"/>
<line x1="605.80" y1="593.54" x2="613.00" y2="593.54" stroke="#000" stroke-width="1.4"/>
<rect x="602.10" y="598.34" width="14.60" height="69.86" fill="#000" stroke="none" stroke-width="0"/>
<text x="123.17" y="689.70" font-size="12.8" font-style="italic" fill="#2a2a2a" textLength="40.36" lengthAdjust="spacingAndGlyphs">Adipoq</text>
<text x="171.35" y="689.70" font-size="12.8" font-style="italic" fill="#2a2a2a" textLength="44.82" lengthAdjust="spacingAndGlyphs">Adipor1</text>
<text x="223.15" y="689.70" font-size="12.8" font-style="italic" fill="#2a2a2a" textLength="44.69" lengthAdjust="spacingAndGlyphs">Adipor2</text>
<text x="275.34" y="689.70" font-size="12.8" font-style="italic" fill="#2a2a2a" textLength="43.42" lengthAdjust="spacingAndGlyphs">Ero1La</text>
<text x="327.94" y="689.70" font-size="12.8" font-style="italic" fill="#2a2a2a" textLength="37.62" lengthAdjust="spacingAndGlyphs">DsbAL</text>
<text x="381.06" y="689.70" font-size="12.8" font-style="italic" fill="#2a2a2a" textLength="32.10" lengthAdjust="spacingAndGlyphs">CD36</text>
<text x="438.67" y="689.70" font-size="12.8" font-style="italic" fill="#2a2a2a" textLength="20.54" lengthAdjust="spacingAndGlyphs">Fas</text>
<text x="486.70" y="689.70" font-size="12.8" font-style="italic" fill="#2a2a2a" textLength="29.18" lengthAdjust="spacingAndGlyphs">Acc1</text>
<text x="537.64" y="689.70" font-size="12.8" font-style="italic" fill="#2a2a2a" textLength="27.55" lengthAdjust="spacingAndGlyphs">Gpat</text>
<text x="585.24" y="689.70" font-size="12.8" font-style="italic" fill="#2a2a2a" textLength="35.73" lengthAdjust="spacingAndGlyphs">Dgat1</text>
<text x="317.10" y="509.60" font-size="13.5" font-weight="bold" stroke="#111" stroke-width="0.35" fill="#111" textLength="59.41" lengthAdjust="spacingAndGlyphs">Mammary</text>
<text x="385.99" y="509.60" font-size="13.5" font-weight="bold" stroke="#111" stroke-width="0.35" fill="#111" textLength="29.94" lengthAdjust="spacingAndGlyphs">gland</text>
<text x="56.60" y="635.52" font-size="12.2" font-weight="bold" stroke="#000" stroke-width="0.5" textLength="38.44" lengthAdjust="spacingAndGlyphs" transform="rotate(-90 56.60 635.52)">mRNA</text>
<text x="56.60" y="589.96" font-size="12.2" font-weight="bold" stroke="#000" stroke-width="0.5" textLength="30.56" lengthAdjust="spacingAndGlyphs" transform="rotate(-90 56.60 589.96)">levels</text>
<text x="73.80" y="644.75" font-size="12.2" font-weight="bold" stroke="#000" stroke-width="0.5" textLength="58.51" lengthAdjust="spacingAndGlyphs" transform="rotate(-90 73.80 644.75)">(%versus</text>
<text x="73.80" y="580.83" font-size="12.2" font-weight="bold" stroke="#000" stroke-width="0.5" textLength="32.41" lengthAdjust="spacingAndGlyphs" transform="rotate(-90 73.80 580.83)">VEH)</text>
<path d="M270.80 904.50H672.00M275.00 904.50V746.00" stroke="#8a8a8a" stroke-width="1.3" fill="none"/>
<line x1="270.80" y1="904.60" x2="275.00" y2="904.60" stroke="#8a8a8a" stroke-width="1.3"/>
<text x="255.09" y="910.09" font-size="14.0" fill="#1a1a1a" textLength="6.86" lengthAdjust="spacingAndGlyphs">0</text>
<line x1="270.80" y1="882.40" x2="275.00" y2="882.40" stroke="#8a8a8a" stroke-width="1.3"/>
<text x="248.23" y="887.88" font-size="14.0" fill="#1a1a1a" textLength="13.72" lengthAdjust="spacingAndGlyphs">20</text>
<line x1="270.80" y1="859.90" x2="275.00" y2="859.90" stroke="#8a8a8a" stroke-width="1.3"/>
<text x="248.23" y="865.38" font-size="14.0" fill="#1a1a1a" textLength="13.72" lengthAdjust="spacingAndGlyphs">40</text>
<line x1="270.80" y1="836.20" x2="275.00" y2="836.20" stroke="#8a8a8a" stroke-width="1.3"/>
<text x="248.23" y="841.69" font-size="14.0" fill="#1a1a1a" textLength="13.72" lengthAdjust="spacingAndGlyphs">60</text>
<line x1="270.80" y1="813.80" x2="275.00" y2="813.80" stroke="#8a8a8a" stroke-width="1.3"/>
<text x="248.23" y="819.28" font-size="14.0" fill="#1a1a1a" textLength="13.72" lengthAdjust="spacingAndGlyphs">80</text>
<line x1="270.80" y1="790.60" x2="275.00" y2="790.60" stroke="#8a8a8a" stroke-width="1.3"/>
<text x="241.37" y="796.09" font-size="14.0" fill="#1a1a1a" textLength="20.58" lengthAdjust="spacingAndGlyphs">100</text>
<line x1="270.80" y1="768.40" x2="275.00" y2="768.40" stroke="#8a8a8a" stroke-width="1.3"/>
<text x="241.37" y="773.88" font-size="14.0" fill="#1a1a1a" textLength="20.58" lengthAdjust="spacingAndGlyphs">120</text>
<line x1="270.80" y1="746.10" x2="275.00" y2="746.10" stroke="#8a8a8a" stroke-width="1.3"/>
<text x="241.37" y="751.59" font-size="14.0" fill="#1a1a1a" textLength="20.58" lengthAdjust="spacingAndGlyphs">140</text>
<line x1="274.86" y1="904.50" x2="274.86" y2="908.70" stroke="#8a8a8a" stroke-width="1.3"/>
<line x1="324.53" y1="904.50" x2="324.53" y2="908.70" stroke="#8a8a8a" stroke-width="1.3"/>
<line x1="374.20" y1="904.50" x2="374.20" y2="908.70" stroke="#8a8a8a" stroke-width="1.3"/>
<line x1="423.87" y1="904.50" x2="423.87" y2="908.70" stroke="#8a8a8a" stroke-width="1.3"/>
<line x1="473.54" y1="904.50" x2="473.54" y2="908.70" stroke="#8a8a8a" stroke-width="1.3"/>
<line x1="523.21" y1="904.50" x2="523.21" y2="908.70" stroke="#8a8a8a" stroke-width="1.3"/>
<line x1="572.88" y1="904.50" x2="572.88" y2="908.70" stroke="#8a8a8a" stroke-width="1.3"/>
<line x1="622.55" y1="904.50" x2="622.55" y2="908.70" stroke="#8a8a8a" stroke-width="1.3"/>
<line x1="672.22" y1="904.50" x2="672.22" y2="908.70" stroke="#8a8a8a" stroke-width="1.3"/>
<line x1="292.55" y1="773.85" x2="292.55" y2="790.70" stroke="#000" stroke-width="1.2"/>
<line x1="288.94" y1="773.85" x2="296.15" y2="773.85" stroke="#000" stroke-width="1.4"/>
<rect x="286.00" y="790.70" width="13.70" height="113.80" fill="#fff" stroke="#000" stroke-width="1.2"/>
<line x1="306.84" y1="796.04" x2="306.84" y2="812.00" stroke="#000" stroke-width="1.2"/>
<line x1="303.24" y1="796.04" x2="310.44" y2="796.04" stroke="#000" stroke-width="1.4"/>
<rect x="299.69" y="811.70" width="14.30" height="92.80" fill="#000" stroke="none" stroke-width="0"/>
<line x1="342.22" y1="776.68" x2="342.22" y2="790.70" stroke="#000" stroke-width="1.2"/>
<line x1="338.62" y1="776.68" x2="345.82" y2="776.68" stroke="#000" stroke-width="1.4"/>
<rect x="335.67" y="790.70" width="13.70" height="113.80" fill="#fff" stroke="#000" stroke-width="1.2"/>
<line x1="356.51" y1="818.34" x2="356.51" y2="828.76" stroke="#000" stroke-width="1.2"/>
<line x1="352.91" y1="818.34" x2="360.12" y2="818.34" stroke="#000" stroke-width="1.4"/>
<rect x="349.37" y="828.46" width="14.30" height="76.04" fill="#000" stroke="none" stroke-width="0"/>
<text x="356.51" y="819.24" font-size="14.5" text-anchor="middle" fill="#222">*</text>
<line x1="391.89" y1="772.38" x2="391.89" y2="790.70" stroke="#000" stroke-width="1.2"/>
<line x1="388.29" y1="772.38" x2="395.49" y2="772.38" stroke="#000" stroke-width="1.4"/>
<rect x="385.34" y="790.70" width="13.70" height="113.80" fill="#fff" stroke="#000" stroke-width="1.2"/>
<line x1="406.19" y1="828.76" x2="406.19" y2="838.27" stroke="#000" stroke-width="1.2"/>
<line x1="402.58" y1="828.76" x2="409.79" y2="828.76" stroke="#000" stroke-width="1.4"/>
<rect x="399.04" y="837.97" width="14.30" height="66.53" fill="#000" stroke="none" stroke-width="0"/>
<text x="406.19" y="830.94" font-size="14.5" text-anchor="middle" fill="#222">*</text>
<line x1="441.56" y1="777.93" x2="441.56" y2="790.70" stroke="#000" stroke-width="1.2"/>
<line x1="437.96" y1="777.93" x2="445.16" y2="777.93" stroke="#000" stroke-width="1.4"/>
<rect x="435.01" y="790.70" width="13.70" height="113.80" fill="#fff" stroke="#000" stroke-width="1.2"/>
<line x1="455.86" y1="781.32" x2="455.86" y2="787.10" stroke="#000" stroke-width="1.2"/>
<line x1="452.25" y1="781.32" x2="459.46" y2="781.32" stroke="#000" stroke-width="1.4"/>
<rect x="448.71" y="786.80" width="14.30" height="117.70" fill="#000" stroke="none" stroke-width="0"/>
<line x1="491.23" y1="771.47" x2="491.23" y2="790.70" stroke="#000" stroke-width="1.2"/>
<line x1="487.62" y1="771.47" x2="494.83" y2="771.47" stroke="#000" stroke-width="1.4"/>
<rect x="484.68" y="790.70" width="13.70" height="113.80" fill="#fff" stroke="#000" stroke-width="1.2"/>
<line x1="505.52" y1="792.87" x2="505.52" y2="800.00" stroke="#000" stroke-width="1.2"/>
<line x1="501.92" y1="792.87" x2="509.12" y2="792.87" stroke="#000" stroke-width="1.4"/>
<rect x="498.38" y="799.70" width="14.30" height="104.80" fill="#000" stroke="none" stroke-width="0"/>
<line x1="540.90" y1="776.12" x2="540.90" y2="790.70" stroke="#000" stroke-width="1.2"/>
<line x1="537.30" y1="776.12" x2="544.50" y2="776.12" stroke="#000" stroke-width="1.4"/>
<rect x="534.35" y="790.70" width="13.70" height="113.80" fill="#fff" stroke="#000" stroke-width="1.2"/>
<line x1="555.20" y1="788.34" x2="555.20" y2="800.00" stroke="#000" stroke-width="1.2"/>
<line x1="551.60" y1="788.34" x2="558.80" y2="788.34" stroke="#000" stroke-width="1.4"/>
<rect x="548.05" y="799.70" width="14.30" height="104.80" fill="#000" stroke="none" stroke-width="0"/>
<line x1="590.57" y1="771.47" x2="590.57" y2="790.70" stroke="#000" stroke-width="1.2"/>
<line x1="586.97" y1="771.47" x2="594.17" y2="771.47" stroke="#000" stroke-width="1.4"/>
<rect x="584.02" y="790.70" width="13.70" height="113.80" fill="#fff" stroke="#000" stroke-width="1.2"/>
<line x1="604.87" y1="760.15" x2="604.87" y2="771.47" stroke="#000" stroke-width="1.2"/>
<line x1="601.26" y1="760.15" x2="608.47" y2="760.15" stroke="#000" stroke-width="1.4"/>
<rect x="597.72" y="771.17" width="14.30" height="133.33" fill="#000" stroke="none" stroke-width="0"/>
<line x1="640.24" y1="779.06" x2="640.24" y2="790.70" stroke="#000" stroke-width="1.2"/>
<line x1="636.63" y1="779.06" x2="643.84" y2="779.06" stroke="#000" stroke-width="1.4"/>
<rect x="633.69" y="790.70" width="13.70" height="113.80" fill="#fff" stroke="#000" stroke-width="1.2"/>
<line x1="654.53" y1="806.68" x2="654.53" y2="812.91" stroke="#000" stroke-width="1.2"/>
<line x1="650.93" y1="806.68" x2="658.13" y2="806.68" stroke="#000" stroke-width="1.4"/>
<rect x="647.38" y="812.61" width="14.30" height="91.89" fill="#000" stroke="none" stroke-width="0"/>
<text x="277.37" y="925.80" font-size="12.8" font-style="italic" fill="#2a2a2a" textLength="46.14" lengthAdjust="spacingAndGlyphs">Adipor1</text>
<text x="326.35" y="925.80" font-size="12.8" font-style="italic" fill="#2a2a2a" textLength="44.69" lengthAdjust="spacingAndGlyphs">Adipor2</text>
<text x="382.48" y="925.80" font-size="12.8" font-style="italic" fill="#2a2a2a" textLength="31.28" lengthAdjust="spacingAndGlyphs">CD36</text>
<text x="428.37" y="925.80" font-size="12.8" font-style="italic" fill="#2a2a2a" textLength="41.82" lengthAdjust="spacingAndGlyphs">Ppparα</text>
<text x="479.59" y="925.80" font-size="12.8" font-style="italic" fill="#2a2a2a" textLength="36.28" lengthAdjust="spacingAndGlyphs">Cpt1α</text>
<text x="536.44" y="925.80" font-size="12.8" font-style="italic" fill="#2a2a2a" textLength="24.89" lengthAdjust="spacingAndGlyphs">Had</text>
<text x="586.71" y="925.80" font-size="12.8" font-style="italic" fill="#2a2a2a" textLength="24.41" lengthAdjust="spacingAndGlyphs">Atgl</text>
<text x="636.95" y="925.80" font-size="12.8" font-style="italic" fill="#2a2a2a" textLength="20.71" lengthAdjust="spacingAndGlyphs">Hsl</text>
<text x="438.20" y="749.30" font-size="13.5" font-weight="bold" stroke="#111" stroke-width="0.35" fill="#111" textLength="30.39" lengthAdjust="spacingAndGlyphs">Liver</text>
<text x="219.20" y="868.32" font-size="12.2" font-weight="bold" stroke="#000" stroke-width="0.5" textLength="38.95" lengthAdjust="spacingAndGlyphs" transform="rotate(-90 219.20 868.32)">mRNA</text>
<text x="219.20" y="821.86" font-size="12.2" font-weight="bold" stroke="#000" stroke-width="0.5" textLength="29.74" lengthAdjust="spacingAndGlyphs" transform="rotate(-90 219.20 821.86)">levels</text>
<text x="236.40" y="881.68" font-size="12.2" font-weight="bold" stroke="#000" stroke-width="0.5" textLength="66.13" lengthAdjust="spacingAndGlyphs" transform="rotate(-90 236.40 881.68)">(%)versus</text>
<text x="236.40" y="810.02" font-size="12.2" font-weight="bold" stroke="#000" stroke-width="0.5" textLength="30.47" lengthAdjust="spacingAndGlyphs" transform="rotate(-90 236.40 810.02)">VEH)</text>
</svg></body></html>
